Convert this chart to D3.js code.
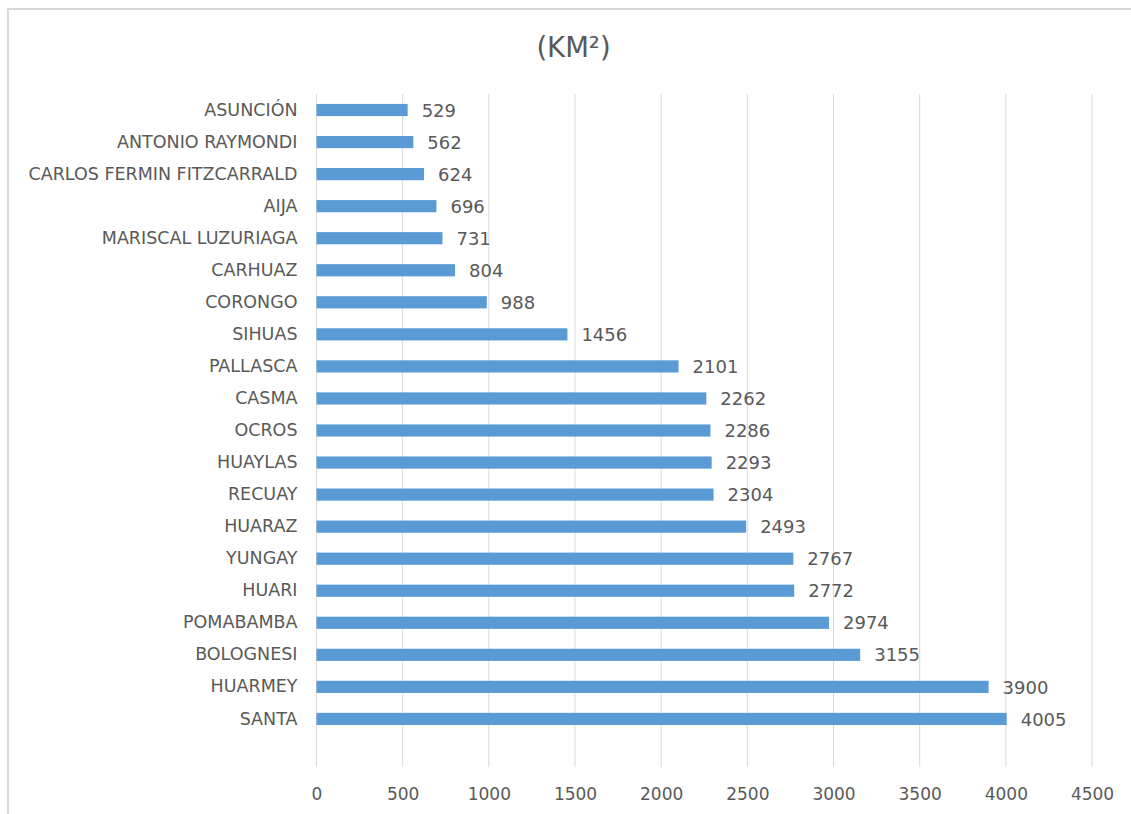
<!DOCTYPE html>
<html>
<head>
<meta charset="utf-8">
<script src="https://cdn.jsdelivr.net/npm/d3@7"></script>
<style>
  body { margin: 0; background: #fff; }
  text { font-family: "DejaVu Sans", sans-serif; fill: #595959; }
</style>
</head>
<body>
<div id="chart"></div>
<script>
var provinces = ["ASUNCIÓN", "ANTONIO RAYMONDI", "CARLOS FERMIN FITZCARRALD", "AIJA",
  "MARISCAL LUZURIAGA", "CARHUAZ", "CORONGO", "SIHUAS", "PALLASCA", "CASMA", "OCROS",
  "HUAYLAS", "RECUAY", "HUARAZ", "YUNGAY", "HUARI", "POMABAMBA", "BOLOGNESI", "HUARMEY", "SANTA"];
var areas = [529, 562, 624, 696, 731, 804, 988, 1456, 2101, 2262, 2286,
  2293, 2304, 2493, 2767, 2772, 2974, 3155, 3900, 4005];
var xTicks = [0, 500, 1000, 1500, 2000, 2500, 3000, 3500, 4000, 4500];
var chartTitle = "(KM²)";

var width = 1131, height = 814;
var margin = { top: 94, right: 39, bottom: 47, left: 316.5 };
var plotW = width - margin.left - margin.right,
    plotH = height - margin.top - margin.bottom;

var data = provinces.map(function (p, i) { return { name: p, value: areas[i] }; });

var svg = d3.select("#chart").append("svg")
  .attr("width", width)
  .attr("height", height);

// outer frame (only top and left edges are visible in the original)
svg.append("rect")
  .attr("x", 8).attr("y", 9)
  .attr("width", width).attr("height", height)
  .attr("fill", "none")
  .attr("stroke", "#d9d9d9")
  .attr("stroke-width", 2);

svg.append("text")
  .attr("x", 573.5)
  .attr("y", 57)
  .attr("text-anchor", "middle")
  .style("font-size", "27.5px")
  .text(chartTitle);

var g = svg.append("g")
  .attr("transform", "translate(" + margin.left + "," + margin.top + ")");

var x = d3.scaleLinear()
  .domain([0, 4500])
  .range([0, plotW]);

// one empty slot at the bottom, like the source sheet
var y = d3.scaleBand()
  .domain(provinces.concat([""]))
  .range([0, plotH])
  .paddingInner(0.62)
  .paddingOuter(0.31);

g.selectAll(".grid")
  .data(xTicks)
  .enter().append("line")
  .attr("class", "grid")
  .attr("x1", function (d) { return x(d); })
  .attr("x2", function (d) { return x(d); })
  .attr("y1", 0)
  .attr("y2", plotH)
  .attr("stroke", "#d9d9d9")
  .attr("stroke-width", 1);

var xAxis = d3.axisBottom(x)
  .tickValues(xTicks)
  .tickFormat(d3.format("d"))
  .tickSize(0)
  .tickPadding(21);

g.append("g")
  .attr("class", "x axis")
  .attr("transform", "translate(0," + plotH + ")")
  .call(xAxis)
  .call(function (s) { s.select(".domain").remove(); })
  .selectAll("text")
  .style("font-family", "DejaVu Sans")
  .style("font-size", "17px")
  .style("fill", "#595959");

var yAxis = d3.axisLeft(y)
  .tickSize(0)
  .tickPadding(19);

g.append("g")
  .attr("class", "y axis")
  .call(yAxis)
  .call(function (s) { s.select(".domain").remove(); })
  .selectAll("text")
  .style("font-family", "DejaVu Sans")
  .style("font-size", "17.5px")
  .style("fill", "#595959");

g.selectAll(".bar")
  .data(data)
  .enter().append("rect")
  .attr("class", "bar")
  .attr("x", 0)
  .attr("y", function (d) { return y(d.name); })
  .attr("width", function (d) { return x(d.value); })
  .attr("height", y.bandwidth())
  .attr("fill", "#5b9bd5");

g.selectAll(".bartext")
  .data(data)
  .enter().append("text")
  .attr("class", "bartext")
  .attr("x", function (d) { return x(d.value) + 14; })
  .attr("y", function (d) { return y(d.name) + y.bandwidth() / 2; })
  .attr("dy", "0.37em")
  .style("font-size", "18px")
  .text(function (d) { return d.value; });
</script>
</body>
</html>
